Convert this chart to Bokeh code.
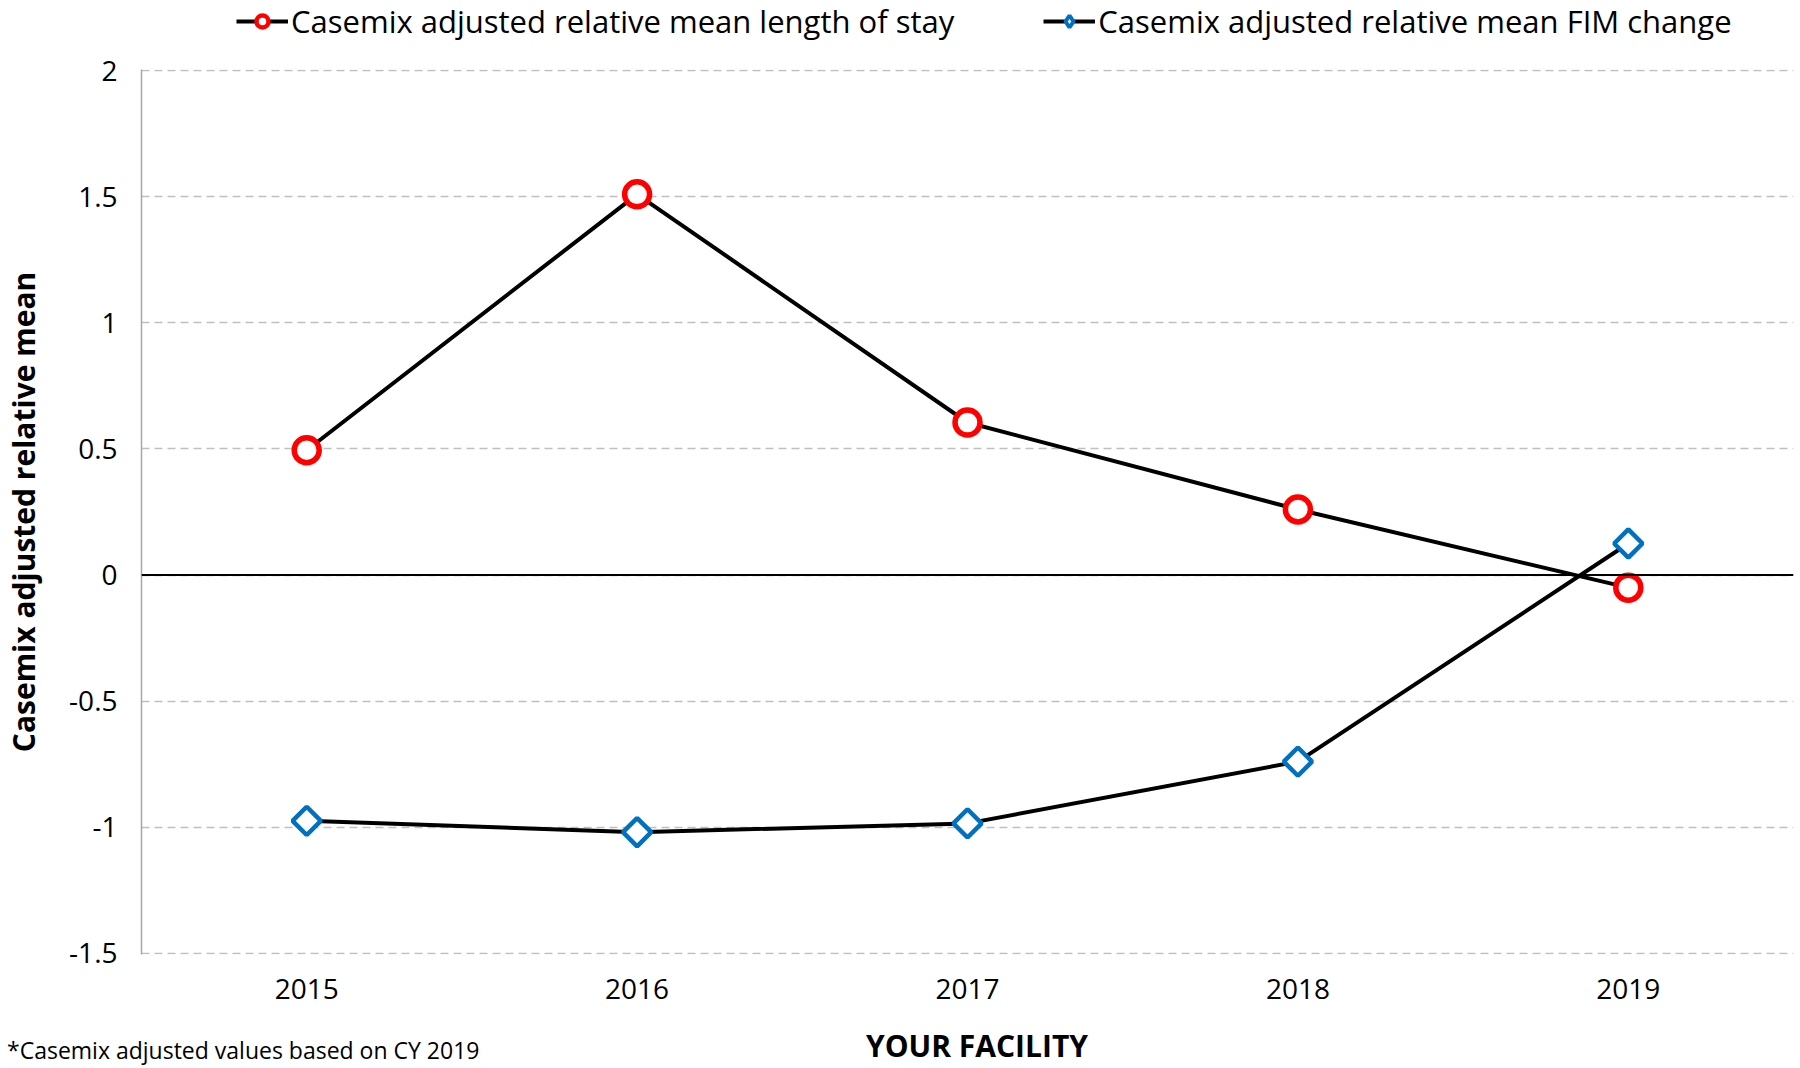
import math
from bokeh.plotting import figure
from bokeh.layouts import column
from bokeh.models import (Range1d, FixedTicker, Span, Legend, LegendItem, Div,
                          ColumnDataSource)
from bokeh.embed import file_html
from bokeh.resources import INLINE

# ---- data ----
years = ["2015", "2016", "2017", "2018", "2019"]
los_values = [0.495, 1.51, 0.605, 0.26, -0.05]
fim_values = [-0.975, -1.02, -0.985, -0.74, 0.125]
y_ticks = [-1.5, -1, -0.5, 0, 0.5, 1, 1.5, 2]
y_tick_labels = ["-1.5", "-1", "-0.5", "0", "0.5", "1", "1.5", "2"]
los_label = "Casemix adjusted relative mean length of stay"
fim_label = "Casemix adjusted relative mean FIM change"
y_title = "Casemix adjusted relative mean"
x_title = "YOUR FACILITY"
footnote = "*Casemix adjusted values based on CY 2019"

FONT = "Open Sans"
W = 1800
LEFT = 140
RIGHT = 7
RED = "#ff0000"
BLUE = "#0070c0"

src = ColumnDataSource(dict(x=years, los=los_values, fim=fim_values))

# ---------------- main chart ----------------
p = figure(x_range=years, y_range=Range1d(-1.505, 2.005), width=W, height=958,
           output_backend="svg", toolbar_location=None,
           min_border_left=LEFT, min_border_right=RIGHT, min_border_top=17,
           min_border_bottom=56)
p.outline_line_color = None

p.xgrid.grid_line_color = None
p.ygrid.grid_line_color = "#c0c0c0"
p.ygrid.grid_line_width = 1.5
p.ygrid.grid_line_dash = "8 5"

p.yaxis.ticker = FixedTicker(ticks=y_ticks)
p.yaxis.major_label_overrides = {t: l for t, l in zip(y_ticks, y_tick_labels)}
p.yaxis.axis_line_color = "#a6a6a6"
p.yaxis.axis_line_width = 1.5
p.yaxis.major_tick_line_color = None
p.yaxis.major_tick_out = 0
p.yaxis.minor_tick_line_color = None
p.yaxis.major_label_text_font = FONT
p.yaxis.major_label_text_font_size = "28px"
p.yaxis.major_label_text_color = "black"
p.yaxis.major_label_standoff = 24
p.yaxis.axis_label = y_title
p.yaxis.axis_label_text_font = FONT
p.yaxis.axis_label_text_font_size = "30px"
p.yaxis.axis_label_text_font_style = "bold"
p.yaxis.axis_label_text_color = "black"
p.yaxis.axis_label_standoff = 22

p.xaxis.axis_line_color = None
p.xaxis.major_tick_line_color = None
p.xaxis.minor_tick_line_color = None
p.xaxis.major_label_text_font = FONT
p.xaxis.major_label_text_font_size = "28px"
p.xaxis.major_label_text_color = "black"
p.xaxis.major_label_standoff = 18

p.add_layout(Span(location=0, dimension="width", line_color="black", line_width=2))

p.line("x", "los", source=src, line_color="black", line_width=4)
p.scatter("x", "los", source=src, marker="circle", size=25,
          fill_color="white", line_color=RED, line_width=5.5)
p.line("x", "fim", source=src, line_color="black", line_width=4)
p.scatter("x", "fim", source=src, marker="square", angle=math.pi / 4, size=20,
          fill_color="white", line_color=BLUE, line_width=4.5)

# ---------------- legend strip ----------------
top = figure(width=W, height=52, x_range=Range1d(0, 1), y_range=Range1d(0, 1),
             output_backend="svg", toolbar_location=None,
             x_axis_location=None, y_axis_location=None,
             min_border_left=LEFT, min_border_right=RIGHT, min_border_top=0,
             min_border_bottom=0)
top.outline_line_color = None
top.grid.visible = False
# legend-only glyph renderers: their single point lies outside the strip's range
dummy = ColumnDataSource(dict(x=[-5], y=[-5]))
tl1 = top.line("x", "y", source=dummy, line_color="black", line_width=4)
tm1 = top.scatter("x", "y", source=dummy, marker="circle", size=13,
                  fill_color="white", line_color=RED, line_width=4.5)
tl2 = top.line("x", "y", source=dummy, line_color="black", line_width=4)
tm2 = top.scatter("x", "y", source=dummy, marker="diamond", size=24,
                  fill_color="white", line_color=BLUE, line_width=4)
legend = Legend(items=[LegendItem(label=los_label, renderers=[tl1, tm1]),
                       LegendItem(label=fim_label, renderers=[tl2, tm2])],
                orientation="horizontal", location=(95, 10),
                label_text_font=FONT, label_text_font_size="31px",
                label_text_color="black", glyph_width=52, glyph_height=30,
                label_standoff=3, spacing=89, padding=0, margin=0,
                border_line_color=None, background_fill_alpha=0)
top.add_layout(legend)

# ---------------- footer strip ----------------
foot_html = (
    '<div style="position:relative;width:%dpx;height:58px;">'
    '<span style="position:absolute;left:7px;top:25px;line-height:30px;'
    'font-family:\'%s\';font-size:23px;color:black;white-space:nowrap;">%s</span>'
    '<span style="position:absolute;left:977px;top:20px;line-height:31px;'
    'transform:translateX(-50%%);font-family:\'%s\';font-size:30px;'
    'font-weight:bold;color:black;white-space:nowrap;">%s</span>'
    '</div>' % (W, FONT, footnote, FONT, x_title)
)
foot = Div(text=foot_html, width=W, height=58, margin=0)

layout = column(top, p, foot, spacing=0)
open("out.html", "w").write(file_html(layout, INLINE))
